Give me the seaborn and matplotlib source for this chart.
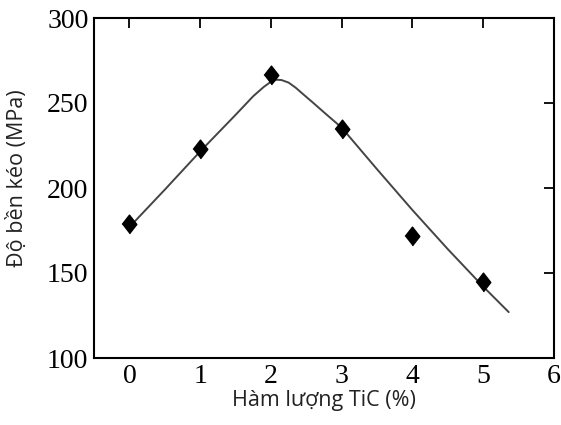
import matplotlib
matplotlib.use("Agg")
import matplotlib.pyplot as plt
import seaborn as sns
import pandas as pd

# measured data points
tic_content = [0, 1, 2, 3, 4, 5]
strength = [179, 223, 266.5, 235, 172, 144.5]

# fitted trend curve
curve_x = [0, 0.5, 1.0, 1.5, 1.75, 1.9, 2.0, 2.08, 2.15, 2.25, 2.35, 2.46, 2.6, 2.75, 3.0,
           3.5, 4.0, 4.5, 5.0, 5.36]
curve_y = [177, 199, 221.5, 243, 254, 259.5, 262.5, 263.7, 263.5, 262, 259, 255, 250, 244.5, 235.5,
           211, 187, 164, 142, 127]

x_ticks = [0, 1, 2, 3, 4, 5, 6]
y_ticks = [100, 150, 200, 250, 300]
x_label = "Hàm lượng TiC (%)"
y_label = "Độ bền kéo (MPa)"

sns.set_style("white")
plt.rcParams["font.family"] = ["Liberation Serif", "DejaVu Serif"]

fig = plt.figure(figsize=(5.61, 4.25), dpi=100)
ax = fig.add_axes([94 / 561, 1 - 358 / 425, (554 - 94) / 561, (358 - 18) / 425])

df_pts = pd.DataFrame({"x": tic_content, "y": strength})
df_curve = pd.DataFrame({"x": curve_x, "y": curve_y})

sns.lineplot(data=df_curve, x="x", y="y", ax=ax, color="#444444", linewidth=1.4,
             sort=False, estimator=None)
diamond = [(-0.78, 0), (0, 1), (0.78, 0), (0, -1)]
ax.plot(df_pts["x"], df_pts["y"], linestyle="none", marker=diamond,
        markersize=13.5, color="black", zorder=5)

ax.set_xlim(-0.5, 6)
ax.set_ylim(100, 300)
ax.set_xticks(x_ticks)
ax.set_yticks(y_ticks)
ax.tick_params(direction="in", length=7, width=1.3, top=True, right=True,
               labelsize=20, pad=4, colors="black")
for lbl in ax.get_xticklabels() + ax.get_yticklabels():
    lbl.set_family(["Liberation Serif"])
for s in ax.spines.values():
    s.set_visible(True)
    s.set_color("black")
    s.set_linewidth(1.5)

ax.set_xlabel(x_label, family=["Open Sans", "DejaVu Sans"], fontsize=15.5, labelpad=1,
              color="#222222")
ax.set_ylabel(y_label, family=["Open Sans", "DejaVu Sans"], fontsize=15.5, labelpad=4,
              color="#222222")
ax.yaxis.set_label_coords(-0.143, 0.53)

fig.savefig("out.png", dpi=100)
